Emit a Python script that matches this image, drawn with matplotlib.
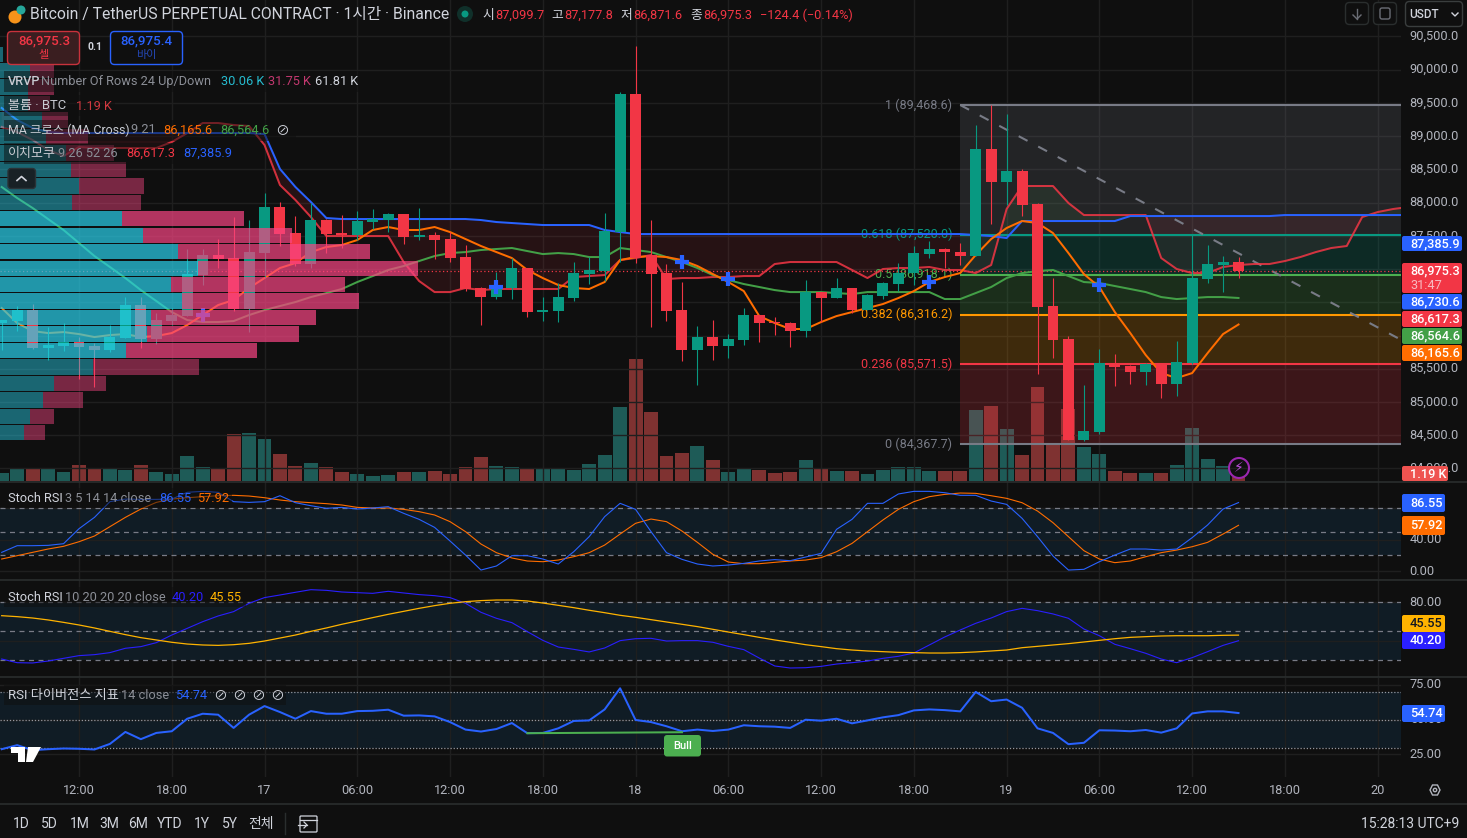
import numpy as np
import matplotlib
matplotlib.use('Agg')
import matplotlib.pyplot as plt
from matplotlib.patches import FancyBboxPatch, Rectangle, Polygon, Circle
from matplotlib.transforms import ScaledTranslation

plt.rcParams['font.family'] = ['Roboto', 'Noto Sans CJK KR', 'DejaVu Sans']
plt.rcParams['axes.unicode_minus'] = False

# candles, one per hour from the 16th 07:00
opens = [86193, 86223, 86383, 85811, 85847, 85897, 85842, 85781, 85962, 86459,
         85947, 86218, 86293, 86910, 87211, 87166, 86398, 87246, 87929, 87537,
         87081, 87738, 87537, 87512, 87713, 87738, 87828, 87487, 87512, 87452,
         87181, 86714, 86584, 86714, 87015, 86353, 86368, 86564, 86925, 86970,
         87557, 89634, 87211, 86940, 86383, 85781, 85977, 85841, 85932, 86308,
         86203, 86188, 86067, 86654, 86564, 86714, 86383, 86594, 86775, 86940,
         87226, 87301, 87256, 87201, 88806, 88315, 88475, 87979, 86444, 85947,
         84427, 84547, 85556, 85540, 85450, 85571, 85270, 85581, 86850, 87061, 87099.7]
highs = [86233, 86444, 86474, 86133, 86183, 85972, 85882, 86158, 86574, 86574,
         86333, 86408, 87296, 87296, 87447, 87778, 87738, 88144, 88009, 87798,
         87994, 87748, 87813, 87873, 87904, 87838, 87828, 87919, 87552, 87552,
         87362, 86725, 86960, 87161, 87015, 86574, 86795, 87106, 87176, 87843,
         89664, 90357, 87738, 87076, 86805, 86142, 86233, 86022, 86413, 86308,
         86283, 86203, 86835, 86654, 86865, 86714, 86624, 86810, 87086, 87347,
         87422, 87311, 87392, 89168, 89469, 89333, 88500, 87989, 86860, 85992,
         85254, 85796, 85721, 85556, 85581, 85581, 85917, 87527, 87362, 87196, 87177.8]
lows = [85781, 86072, 85796, 85631, 85771, 85345, 85229, 85751, 85962, 85811,
        85872, 86158, 86293, 86760, 87016, 86368, 86057, 86860, 87352, 87051,
        87016, 87246, 87312, 87437, 87597, 87562, 87377, 87437, 87151, 87106,
        86669, 86158, 86554, 86554, 86283, 86223, 86208, 86524, 86775, 86820,
        87111, 87096, 86132, 86223, 85621, 85259, 85631, 85666, 85856, 85902,
        86007, 85827, 85977, 86203, 86564, 86333, 86383, 86554, 86674, 86760,
        87166, 87015, 87061, 87201, 87678, 87964, 87798, 85420, 85661, 84427,
        84412, 84517, 85239, 85269, 85254, 85059, 85089, 85571, 86790, 86654, 86871.6]
closes = [86233, 86383, 85816, 85857, 85897, 85826, 85781, 85982, 86459, 85947,
          86233, 86308, 86925, 87211, 87151, 86398, 87256, 87929, 87532, 87081,
          87738, 87532, 87527, 87723, 87748, 87828, 87487, 87512, 87437, 87166,
          86699, 86584, 86729, 87015, 86353, 86383, 86579, 86940, 86985, 87572,
          89634, 87166, 86925, 86368, 85781, 85977, 85841, 85947, 86308, 86188,
          86188, 86067, 86659, 86564, 86714, 86383, 86609, 86790, 86940, 87241,
          87301, 87256, 87196, 88806, 88315, 88475, 87964, 86428, 85932, 84427,
          84562, 85581, 85525, 85450, 85571, 85270, 85601, 86865, 87076, 87106, 86975.3]
volumes = [2.4, 3.6, 3.9, 3.6, 2.7, 4.8, 3.6, 3.6, 3.3, 4.8,
           2.7, 2.1, 7.5, 4.2, 3.6, 14.1, 14.4, 12.6, 8.1, 4.5,
           5.4, 4.2, 2.7, 2.1, 1.5, 1.8, 2.7, 2.7, 3.0, 2.1,
           4.2, 7.2, 4.5, 4.2, 3.9, 3.6, 3.9, 3.3, 5.1, 7.8,
           22.2, 36.6, 20.7, 7.5, 8.4, 10.5, 6.3, 2.7, 3.9, 3.3,
           2.4, 2.7, 6.3, 3.9, 3.0, 3.0, 2.1, 3.3, 4.2, 4.2,
           3.0, 3.0, 3.0, 21.3, 22.5, 15.6, 7.8, 28.2, 10.8, 21.6,
           10.2, 8.1, 3.0, 2.4, 2.4, 2.4, 4.8, 15.9, 6.6, 4.5, 1.19]

# moving averages
ma9 = [86414, 86188, 86067, 86037, 86052, 86022, 85977, 86007, 86022, 85977,
       85992, 86037, 86158, 86308, 86459, 86534, 86715, 86865, 87016, 87091,
       87256, 87332, 87362, 87437, 87588, 87633, 87588, 87588, 87633, 87557,
       87452, 87347, 87256, 87166, 86986, 86865, 86760, 86715, 86700, 86805,
       87136, 87181, 87196, 87181, 87136, 87046, 86925, 86805, 86669, 86293,
       86188, 86098, 86098, 86203, 86293, 86353, 86414, 86474, 86564, 86669,
       86805, 86880, 86940, 87211, 87452, 87618, 87723, 87693, 87542, 87241,
       86925, 86730, 86353, 86037, 85706, 85435, 85360, 85435, 85736, 86022, 86166]
ma21 = [88235, 88069, 87919, 87753, 87588, 87392, 87196, 87031, 86865, 86684,
        86519, 86353, 86233, 86203, 86203, 86218, 86308, 86383, 86444, 86504,
        86579, 86639, 86700, 86805, 86895, 86986, 87046, 87121, 87196, 87241,
        87256, 87287, 87302, 87317, 87271, 87226, 87241, 87226, 87181, 87181,
        87317, 87287, 87256, 87181, 87106, 87016, 86910, 86835, 86775, 86730,
        86684, 86654, 86654, 86654, 86639, 86624, 86654, 86654, 86654, 86654,
        86654, 86549, 86549, 86639, 86730, 86865, 86940, 86970, 86986, 86895,
        86805, 86790, 86745, 86700, 86654, 86579, 86549, 86564, 86579, 86579, 86565]
cross_idx = [13, 32, 44, 47, 60, 71]
cross_price = [86308, 86730, 87106, 86850, 86805, 86760]

# ichimoku leading lines, they run 11 bars past the last candle
lead_red = [89138, 89062, 88942, 88791, 88701, 88837, 88822, 88822, 88822, 88822,
            88822, 88912, 89047, 89198, 89198, 89168, 89153, 88867, 88265, 88039,
            87783, 87497, 87497, 87497, 87497, 87497, 87106, 86820, 86654, 86654,
            86715, 86684, 86700, 86700, 86700, 86700, 86700, 86880, 86895, 86910,
            87136, 87166, 87211, 86850, 86865, 86865, 86880, 86880, 86895, 86895,
            87076, 87106, 87106, 87106, 87106, 86986, 86865, 87001, 87016, 87016,
            87031, 86986, 86986, 86940, 87061, 87904, 88250, 88250, 88250, 87994,
            87813, 87813, 87813, 87813, 87813, 87166, 87001, 86940, 86940, 87031,
            87061, 87076, 87076, 87121, 87181, 87256, 87317, 87347, 87783, 87858, 87904, 87934]
lead_blue = [89424, 89243, 89123, 89062, 89047, 89047, 89047, 89047, 89047, 89047,
             89047, 89047, 89047, 89047, 89047, 89047, 89047, 89032, 88506, 88235,
             88009, 87768, 87753, 87753, 87753, 87753, 87753, 87753, 87753, 87753,
             87753, 87738, 87708, 87693, 87678, 87663, 87663, 87663, 87663, 87588,
             87557, 87527, 87527, 87527, 87527, 87527, 87527, 87527, 87527, 87527,
             87527, 87527, 87527, 87527, 87527, 87527, 87527, 87527, 87527, 87527,
             87527, 87527, 87527, 87512, 87497, 87467, 87723, 87723, 87723, 87723,
             87723, 87723, 87723, 87798, 87798, 87798, 87798, 87798, 87798, 87798,
             87798, 87798, 87798, 87813, 87813, 87813, 87813, 87813, 87813, 87813, 87813, 87813]

# fibonacci levels
fib_ratio = ['1', '0.618', '0.5', '0.382', '0.236', '0']
fib_price = [89468.6, 87520.0, 86918.1, 86316.2, 85571.5, 84367.7]
fib_color = ['#787b86', '#089981', '#4caf50', '#ff9800', '#f23645', '#787b86']
fib_start = 62
trend_idx = [62, 90.3]
trend_price = [89468.6, 85962]

# visible range volume profile, bottom row first
vp_up = [0.35, 0.44, 0.63, 0.79, 1.36, 1.84, 2.15, 2.20, 2.66, 2.50, 2.89, 2.60,
         2.09, 1.78, 1.05, 1.15, 1.04, 0.96, 0.67, 0.61, 0.41, 0.41, 0.44, 0.04]
vp_down = [0.31, 0.35, 0.58, 0.76, 1.55, 1.91, 2.22, 2.42, 2.58, 2.54, 3.21, 2.80,
           2.18, 1.78, 1.01, 0.95, 0.80, 0.70, 0.61, 0.38, 0.32, 0.38, 0.35, 0.01]

# oscillators
stoch1_k = [23.8, 32.2, 32.2, 32.6, 34.7, 53.6, 67.9, 87.7, 91.0, 90.6,
            90.6, 91.0, 99.5, 100.7, 99.5, 87.7, 86.8, 87.7, 95.2, 86.4,
            82.6, 79.3, 80.5, 78.4, 79.7, 81.4, 73.0, 65.4, 55.3, 38.1,
            20.4, 1.5, 6.6, 19.6, 19.6, 15.4, 9.1, 24.6, 43.6, 68.8,
            85.6, 78.0, 49.9, 23.4, 15.0, 9.1, 6.6, 7.8, 9.9, 12.9,
            14.6, 13.3, 17.9, 22.5, 52.8, 65.4, 85.6, 85.6, 97.4, 100.7,
            100.7, 99.0, 95.7, 95.7, 88.5, 84.3, 66.7, 43.6, 19.2, 1.5,
            2.4, 12.0, 20.4, 28.0, 28.0, 26.7, 28.0, 42.3, 58.3, 78.4, 86.55]
stoch1_d = [15.4, 19.6, 23.8, 28.0, 31.4, 37.2, 44.4, 56.2, 67.9, 78.4,
            86.8, 91.0, 92.7, 94.0, 95.2, 95.7, 94.8, 92.7, 89.8, 87.7,
            86.4, 85.2, 83.5, 80.5, 79.7, 79.7, 78.0, 75.1, 70.9, 62.5,
            49.9, 34.3, 23.4, 16.7, 12.9, 12.0, 14.1, 18.3, 23.4, 33.0,
            46.9, 60.4, 65.8, 62.5, 50.7, 36.4, 21.3, 11.6, 9.5, 9.5,
            11.2, 12.9, 14.1, 17.1, 24.6, 35.1, 49.9, 64.6, 78.0, 87.7,
            94.0, 96.9, 98.6, 98.2, 95.2, 91.9, 86.4, 75.9, 61.2, 43.6,
            25.9, 15.4, 10.8, 12.9, 18.3, 23.4, 26.7, 30.9, 36.4, 46.9, 57.92]
stoch2_k = [21.3, 17.5, 17.2, 19.2, 22.0, 24.8, 25.8, 27.9, 32.4, 34.1,
            38.2, 46.1, 53.0, 59.9, 65.8, 70.3, 78.9, 84.8, 87.5, 90.3,
            93.0, 92.3, 90.6, 89.9, 89.2, 91.3, 89.6, 87.9, 86.8, 84.8,
            78.9, 69.6, 63.4, 58.9, 49.6, 40.6, 33.7, 31.3, 28.6, 32.7,
            40.3, 42.3, 42.7, 39.9, 40.3, 40.3, 38.6, 34.4, 31.0, 22.3,
            14.1, 12.0, 12.3, 13.7, 16.1, 17.5, 19.2, 22.0, 24.1, 27.5,
            35.8, 44.1, 51.3, 58.2, 63.7, 70.3, 73.7, 71.3, 67.9, 63.4,
            52.3, 45.4, 36.5, 32.0, 27.2, 21.3, 17.5, 22.7, 28.9, 35.4, 40.2]
stoch2_d = [66.1, 65.1, 63.7, 61.7, 59.2, 56.5, 53.4, 49.9, 46.5, 43.4,
            41.0, 38.6, 36.8, 35.8, 35.4, 36.1, 37.5, 39.9, 43.0, 46.1,
            49.9, 53.4, 57.2, 60.6, 64.1, 67.5, 70.6, 73.7, 76.5, 78.9,
            80.6, 81.7, 82.3, 82.3, 81.3, 79.2, 76.8, 74.4, 71.7, 69.2,
            66.5, 64.4, 62.0, 59.6, 57.2, 54.8, 52.0, 49.2, 46.5, 43.7,
            41.0, 38.6, 36.1, 34.1, 32.0, 30.6, 29.6, 28.9, 28.2, 27.9,
            27.5, 27.5, 27.9, 28.6, 29.6, 30.6, 33.0, 34.4, 35.8, 37.2,
            38.9, 40.6, 42.3, 43.7, 44.4, 45.1, 45.4, 45.4, 45.4, 45.8, 46.0]
rsi = [28.8, 31.7, 28.1, 28.8, 29.3, 29.1, 28.6, 32.6, 41.2, 36.0,
       40.5, 41.7, 50.7, 54.3, 53.6, 44.1, 53.6, 59.8, 55.5, 50.7,
       56.2, 54.3, 54.3, 56.2, 56.4, 57.2, 52.9, 53.1, 52.4, 48.3,
       42.9, 41.5, 43.3, 47.6, 40.3, 40.5, 43.8, 49.1, 49.5, 57.4,
       72.6, 49.8, 48.3, 45.3, 41.7, 42.9, 41.9, 42.9, 46.0, 45.3,
       45.0, 44.1, 50.0, 49.3, 50.7, 47.4, 49.5, 51.7, 53.3, 56.7,
       57.4, 56.9, 56.0, 70.0, 63.3, 64.5, 58.6, 43.8, 40.5, 32.4,
       33.4, 42.4, 42.2, 41.7, 42.6, 40.7, 43.8, 54.5, 56.0, 56.0, 54.8]
div_idx = [34, 44]
div_rsi = [40.3, 41.0]

# time axis labels
time_idx = [5, 11, 17, 23, 29, 35, 41, 47, 53, 59, 65, 71, 77, 83, 89]
time_labels = ['12:00', '18:00', '17', '06:00', '12:00', '18:00', '18', '06:00',
               '12:00', '18:00', '19', '06:00', '12:00', '18:00', '20']
price_ticks = list(range(84000, 91000, 500))

W, H = 1467, 838
BG = '#0f0f0f'
GRID = '#1f1f1f'
UP = '#089981'
DOWN = '#f23645'
BLUE = '#2962ff'
ORANGE = '#ff6d00'
GREEN = '#43a047'
TICK = '#b2b5be'
PLOT_R = 1401
X_LEFT = -0.11
X_RIGHT = 90.51


def px_axes(top, bottom, right=PLOT_R, z=1):
    a = fig.add_axes([0, 1 - bottom / H, right / W, (bottom - top) / H], zorder=z)
    a.set_xlim(X_LEFT, X_RIGHT)
    return a


def style_pane(a, ticks, fmt):
    a.patch.set_alpha(0)
    a.set_yticks(ticks)
    a.set_yticklabels([fmt.format(t) for t in ticks])
    a.yaxis.tick_right()
    a.tick_params(axis='y', length=0, pad=6.3, labelsize=9.2, labelcolor=TICK)
    a.tick_params(axis='x', length=0, labelbottom=False)
    a.set_xticks(time_idx)
    a.grid(True, color=GRID, lw=1)
    a.set_axisbelow(True)
    for s in a.spines.values():
        s.set_visible(False)
    # the scale text sits a little above its grid line
    up = ScaledTranslation(0, 1.5 / 100, fig.dpi_scale_trans)
    for lab in a.get_yticklabels():
        lab.set_transform(lab.get_transform() + up)


fig = plt.figure(figsize=(W / 100, H / 100), dpi=100, facecolor=BG)
idx = np.arange(len(closes))
o, h_, l_, c = map(np.array, (opens, highs, lows, closes))
is_up = c >= o
price_lim = (83796, 91049)

# volume sits behind the price panel
ax_vol = px_axes(0, 482, z=1)
ax_vol.set_facecolor(BG)
ax_vol.set_ylim(-0.3, 144.3)
ax_vol.axis('off')
ax_vol.bar(idx[is_up], np.array(volumes)[is_up], width=0.9, color='#1e5b57')
ax_vol.bar(idx[~is_up], np.array(volumes)[~is_up], width=0.9, color='#7f3231')

# price panel
ax = px_axes(0, 482, z=2)
ax.set_ylim(*price_lim)
style_pane(ax, price_ticks, '{:,.1f}')

lead_x = np.arange(len(lead_red))
red_arr, blue_arr = np.array(lead_red), np.array(lead_blue)
ax.fill_between(lead_x, red_arr, blue_arr, where=blue_arr >= red_arr, interpolate=True,
                color=DOWN, alpha=0.10, lw=0, zorder=1)
ax.fill_between(lead_x, red_arr, blue_arr, where=blue_arr <= red_arr, interpolate=True,
                color='#4caf50', alpha=0.10, lw=0, zorder=1)

# fib bands and levels
for i in range(len(fib_price) - 1):
    ax.fill_between([fib_start, X_RIGHT], fib_price[i], fib_price[i + 1],
                    color=fib_color[i], alpha=0.2, lw=0, zorder=1.2)
for i in range(len(fib_price)):
    ax.hlines(fib_price[i], fib_start, X_RIGHT, color=fib_color[i], lw=1.5, zorder=1.5)
    ax.text(61.47, fib_price[i], '{} ({:,.1f})'.format(fib_ratio[i], fib_price[i]),
            color=fib_color[i], fontsize=9, ha='right', va='center', zorder=1.5)
ax.plot(trend_idx, trend_price, color='#787b86', lw=1.5, dashes=(4.8, 5.8), zorder=1.6)

ax.axhline(closes[-1], color=DOWN, lw=0.9, ls=(0, (1, 2)), zorder=1.7)
ax.plot(lead_x, lead_red, color=DOWN, lw=1.45, alpha=0.85, zorder=2)
ax.plot(lead_x, lead_blue, color=BLUE, lw=1.45, zorder=2)
ax.plot(idx, ma21, color=GREEN, lw=1.45, zorder=2.1)
ax.plot(idx, ma9, color=ORANGE, lw=1.45, zorder=2.2)

# candles
ax.vlines(idx[is_up], l_[is_up], h_[is_up], color=UP, lw=0.8, zorder=3)
ax.vlines(idx[~is_up], l_[~is_up], h_[~is_up], color=DOWN, lw=0.8, zorder=3)
body_h = np.abs(c - o)
body_h = np.maximum(body_h, 20)
ax.bar(idx[is_up], body_h[is_up], bottom=o[is_up], width=0.71, color=UP, zorder=3.1)
ax.bar(idx[~is_up], -body_h[~is_up], bottom=o[~is_up], width=0.71, color=DOWN, zorder=3.1)
ax.scatter(cross_idx, cross_price, marker='+', s=110, linewidths=3, color=BLUE, zorder=4)

# volume profile goes over everything in the price panel
ax_vp = px_axes(0, 482, z=3)
ax_vp.axis('off')
ax_vp.set_xlim(0, PLOT_R * 0.0146)
ax_vp.set_ylim(*price_lim)
edges = np.linspace(min(lows), max(highs), len(vp_up) + 1)
row_h = edges[1] - edges[0]
for i in range(len(vp_up)):
    a_ = 0.7 if 5 <= i <= 13 else 0.45
    ax_vp.barh(edges[i] + row_h / 2, vp_up[i], height=row_h * 0.93, color='#29d1ec', alpha=a_, lw=0)
    ax_vp.barh(edges[i] + row_h / 2, vp_down[i], left=vp_up[i], height=row_h * 0.93,
               color='#f94583', alpha=a_, lw=0)

# stoch rsi 3 5 14 14
ax_s1 = px_axes(482, 579)
ax_s1.set_ylim(-9.8, 112.5)
style_pane(ax_s1, [0, 40, 80], '{:.2f}')
ax_s1.axhspan(20, 80, color='#101c25', lw=0, zorder=0.5)
for lv in (20, 50, 80):
    ax_s1.axhline(lv, color='#787b86', lw=0.9, dashes=(4, 3.6), zorder=1)
ax_s1.plot(idx, stoch1_d, color=ORANGE, lw=0.8, zorder=2)
ax_s1.plot(idx, stoch1_k, color=BLUE, lw=0.8, zorder=2)

# stoch rsi 10 20 20 20
ax_s2 = px_axes(580, 677)
ax_s2.set_ylim(2.7, 103)
style_pane(ax_s2, [40, 80], '{:.2f}')
ax_s2.axhspan(20, 80, color='#101c25', lw=0, zorder=0.5)
for lv in (20, 50, 80):
    ax_s2.axhline(lv, color='#787b86', lw=0.9, dashes=(4, 3.6), zorder=1)
ax_s2.plot(idx, stoch2_k, color='#2a1fff', lw=0.8, zorder=2)
ax_s2.plot(idx, stoch2_d, color='#ffb300', lw=0.9, zorder=2)

# rsi with time axis
ax_r = px_axes(678, 777)
ax_r.set_ylim(8.8, 80)
style_pane(ax_r, [25, 50, 75], '{:.2f}')
ax_r.axhspan(30, 70, color='#101c25', lw=0, zorder=0.5)
for lv in (30, 50, 70):
    ax_r.axhline(lv, color='#9598a1', lw=0.9, ls=(0, (1, 1.5)), zorder=1)
ax_r.plot(idx, rsi, color=BLUE, lw=1.45, zorder=2)
ax_r.plot(div_idx, div_rsi, color='#4caf50', lw=1.45, zorder=2.1)
ax_r.set_xticks(time_idx)
ax_r.set_xticklabels(time_labels)
ax_r.tick_params(axis='x', labelbottom=True, labelsize=9.2, labelcolor=TICK, pad=5.3)

# everything that is chart furniture goes in pixel space on top
ui = fig.add_axes([0, 0, 1, 1], zorder=10)
ui.set_xlim(0, W)
ui.set_ylim(H, 0)
ui.axis('off')


def txt(x, y, s, color='#d1d4dc', size=9.2, ha='left', **kw):
    ui.text(x, y, s, color=color, fontsize=size, ha=ha, va='center', **kw)


def rbox(x0, y0, x1, y1, face, edge='none', r=3, lw=1, alpha=None):
    ui.add_patch(FancyBboxPatch((x0, y0), x1 - x0, y1 - y0, boxstyle='round,pad=0,rounding_size=%s' % r,
                                fc=face, ec=edge, lw=lw, alpha=alpha))


for yy in (482, 579.5, 677, 804):
    ui.plot([0, W], [yy, yy], color='#2a2e2e', lw=1.2)

# title row
ui.add_patch(Circle((15, 17), 6.5, fc='#f7931a'))
ui.add_patch(Circle((21, 10), 4.5, fc='#26a69a'))
txt(30, 15, 'Bitcoin / TetherUS PERPETUAL CONTRACT · 1시간 · Binance', '#d1d4dc', 11.3)
ui.add_patch(Circle((465, 14), 8, fc='#10302a'))
ui.add_patch(Circle((465, 14), 3.5, fc=UP))
for lab, x_lab, val, x_val in [('시', 482, '87,099.7', 495), ('고', 551, '87,177.8', 564),
                               ('저', 620, '86,871.6', 633), ('종', 690, '86,975.3', 703)]:
    txt(x_lab, 15, lab)
    txt(x_val, 15, val, DOWN)
txt(760, 15, '−124.4 (−0.14%)', DOWN)

# order buttons
rbox(7.5, 31.5, 79.5, 64.5, '#3a1e20', '#c8323c', r=4)
txt(44, 41, '86,975.3', DOWN, 9.6, ha='center', fontweight='medium')
txt(44, 55, '셀', DOWN, 8, ha='center')
txt(94.5, 47.5, '0.1', '#d1d4dc', 7.5, ha='center', fontweight='bold')
rbox(110.5, 31.5, 182.5, 64.5, BG, BLUE, r=4)
txt(146.5, 41, '86,975.4', BLUE, 9.6, ha='center', fontweight='medium')
txt(146.5, 55, '바이', '#2448b8', 8, ha='center')

# legend rows
for x1, y0, y1 in [(360, 71, 92), (115, 95, 116), (296, 120, 141), (240, 143, 164),
                   (232, 488, 508), (246, 587, 607), (286, 685, 705)]:
    ui.add_patch(Rectangle((4, y0), x1 - 4, y1 - y0, fc=BG, alpha=0.5, lw=0))
GRAY = '#8b8e96'
txt(8, 81.5, 'VRVP', '#c8cbd2', fontweight='medium')
txt(41, 81.5, 'Number Of Rows 24 Up/Down', GRAY)
txt(221, 81.5, '30.06 K', '#26bcd0')
txt(268, 81.5, '31.75 K', '#c2386f')
txt(315, 81.5, '61.81 K', '#d1d4dc')
txt(8, 106, '볼륨 · BTC', '#c8cbd2', 9.4)
txt(76, 106, '1.19 K', '#d0383f')
txt(8, 130.5, 'MA 크로스 (MA Cross)', '#c8cbd2', 8.9)
txt(131, 129.5, '9 21', GRAY)
txt(163, 130.5, '86,165.6', ORANGE)
txt(220, 130.5, '86,564.6', GREEN)
txt(282, 130, '⊘', '#d1d4dc', 10, ha='center')
txt(8, 153.5, '이치모쿠', '#c8cbd2', 9.4)
txt(58, 153.5, '9 26 52 26', GRAY)
txt(126, 153.5, '86,617.3', DOWN)
txt(183, 153.5, '87,385.9', BLUE)
rbox(8, 168.5, 35.5, 188.5, '#182125', '#2a3236', r=3)
ui.plot([17, 21.5, 26], [180.5, 176.5, 180.5], color='#d1d4dc', lw=1.2)

txt(8, 498.5, 'Stoch RSI')
txt(65, 498.5, '3 5 14 14 close', GRAY)
txt(159, 498.5, '86.55', BLUE)
txt(197, 498.5, '57.92', ORANGE)
txt(8, 597, 'Stoch RSI')
txt(65, 597, '10 20 20 20 close', GRAY)
txt(172, 597, '40.20', '#2a1fff')
txt(210, 597, '45.55', '#ffb300')
txt(8, 695, 'RSI 다이버전스 지표', '#d1d4dc', 9.5)
txt(121, 695, '14 close', GRAY)
txt(175, 695, '54.74', BLUE)
for xx in (220, 239, 258, 277):
    txt(xx, 695, '⊘', '#d1d4dc', 10, ha='center')

# top right buttons
DIM = '#6a6d75'
rbox(1345.5, 2.5, 1368.5, 24.5, BG, '#2a2e2e', r=4)
ui.plot([1357, 1357], [9, 19], color=DIM, lw=1)
ui.plot([1353, 1357, 1361], [15, 19, 15], color=DIM, lw=1)
rbox(1373.5, 2.5, 1396.5, 24.5, BG, '#2a2e2e', r=4)
rbox(1380, 8, 1390, 19, BG, DIM, r=2)
rbox(1405.5, 1.5, 1462.5, 26.5, BG, '#3a3e3e', r=4)
txt(1409, 14, 'USDT', '#d1d4dc', 8.5, fontweight='medium')
ui.plot([1452, 1455, 1458], [13, 16, 13], color='#d1d4dc', lw=1)

# price tags over the axis
tags = [(236, 251, '87,385.9', BLUE), (294, 309.5, '86,730.6', BLUE), (311, 327, '86,617.3', DOWN),
        (328, 344, '86,564.6', GREEN), (345, 361, '86,165.6', ORANGE)]
for y0, y1, s, col in tags:
    rbox(1402, y0, 1462, y1, col, r=2)
    txt(1410, (y0 + y1) / 2, s, 'white', fontweight='medium')
rbox(1402, 263, 1462, 293, DOWN, r=2)
txt(1410, 271, '86,975.3', 'white', fontweight='medium')
txt(1410, 285, '31:47', '#f7b9bf')
rbox(1402, 466, 1448, 481, '#ef5350', r=2)
txt(1410, 474, '1.19 K', 'white', fontweight='medium')
small_tags = [(494, 512, '86.55', BLUE, 'white'), (516, 535, '57.92', ORANGE, 'white'),
              (615, 632, '45.55', '#ffb300', '#131722'), (632, 649, '40.20', '#2a1fff', 'white'),
              (705, 722, '54.74', BLUE, 'white')]
for y0, y1, s, col, tc in small_tags:
    rbox(1402, y0, 1445, y1, col, r=2)
    txt(1410, (y0 + y1) / 2, s, tc, fontweight='medium')

# bull label
rbox(664, 735, 701, 756.5, '#4caf50', r=3)
txt(682.5, 745.5, 'Bull', 'white', 8, ha='center', fontweight='medium')

# lightning button
ui.add_patch(Circle((1239, 468), 10, fc='none', ec='#9c27b0', lw=1.5))
txt(1239, 468, '⚡', '#c050e0', 10, ha='center')

# TV logo
ui.add_patch(Polygon([(11, 747), (25, 747), (25, 762), (18, 762), (18, 753), (11, 753)], fc='white', lw=0))
ui.add_patch(Polygon([(28, 747), (41, 747), (33, 762), (26, 762)], fc='white', lw=0))

# hexagon settings
ui.add_patch(Polygon([(1430, 790), (1432.5, 785), (1437.5, 785), (1440, 790), (1437.5, 795), (1432.5, 795)],
                     fc='none', ec='#b2b5be', lw=1))
ui.add_patch(Circle((1435, 790), 1.7, fc='none', ec='#b2b5be', lw=1))

# bottom bar
for s, xx in [('1D', 13), ('5D', 41), ('1M', 70), ('3M', 99), ('6M', 128), ('YTD', 157), ('1Y', 194), ('5Y', 222), ('전체', 248)]:
    txt(xx, 824, s, '#d1d4dc', 10)
ui.plot([285, 285], [813, 834], color='#2a2e2e', lw=1)
rbox(300, 816, 317, 832, BG, '#d1d4dc', r=1, lw=0.9)
ui.plot([300, 317], [820, 820], color='#d1d4dc', lw=0.9)
ui.plot([298, 307], [825, 825], color='#d1d4dc', lw=0.9)
ui.plot([304, 307, 304], [822, 825, 828], color='#d1d4dc', lw=0.9)
txt(1459, 824, '15:28:13 UTC+9', '#d1d4dc', 10, ha='right')

fig.savefig('out.png', dpi=100, facecolor=BG)
